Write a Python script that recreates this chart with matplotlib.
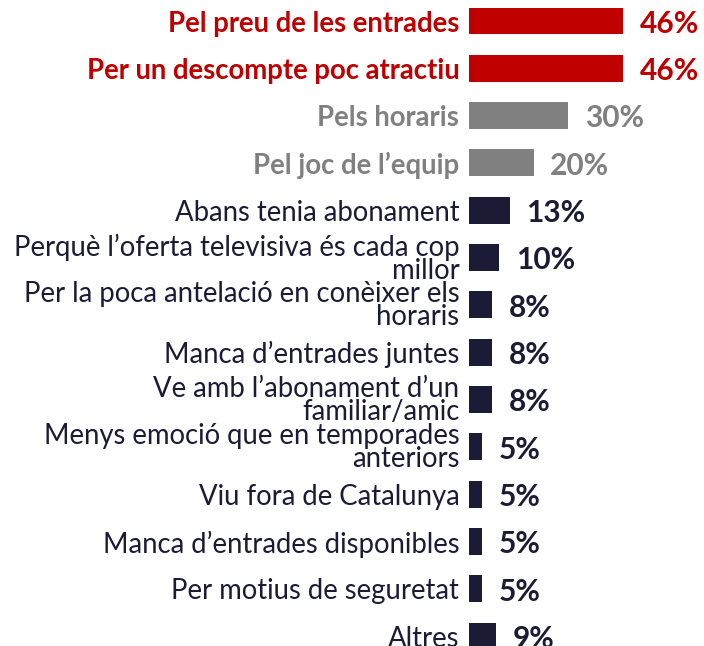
import numpy as np
import matplotlib
matplotlib.use('Agg')
import matplotlib.pyplot as plt

plt.rcParams['font.family'] = ['Lato', 'DejaVu Sans']

labels = ['Pel preu de les entrades', 'Per un descompte poc atractiu', 'Pels horaris',
          'Pel joc de l\u2019equip', 'Abans tenia abonament',
          'Perqu\u00e8 l\u2019oferta televisiva \u00e9s cada cop\nmillor',
          'Per la poca antelaci\u00f3 en con\u00e8ixer els\nhoraris',
          'Manca d\u2019entrades juntes', 'Ve amb l\u2019abonament d\u2019un\nfamiliar/amic',
          'Menys emoci\u00f3 que en temporades\nanteriors', 'Viu fora de Catalunya',
          'Manca d\u2019entrades disponibles', 'Per motius de seguretat', 'Altres']
values = [46, 46, 30, 20, 13, 10, 8, 8, 8, 5, 5, 5, 5, 9]
groups = ['top', 'top', 'mid', 'mid'] + ['rest'] * 10

RED = '#c00000'
GREY = '#808080'
NAVY = '#1c1b36'
col = {'top': RED, 'mid': GREY, 'rest': NAVY}

fig = plt.figure(figsize=(7.04, 6.46), dpi=100)
ax = fig.add_axes([469/704, 0, 1 - 469/704, 1])

y = np.arange(len(values))
colors = [col[g] for g in groups]
ax.barh(y, values, height=0.57, color=colors)

ax.set_xlim(1.2, 69.5)
ax.set_ylim(13.21, -0.444)

ax.set_yticks(y)
ax.set_yticklabels(labels, fontsize=19.8, linespacing=0.85)
ax.tick_params(axis='y', length=0, pad=7)
for t, g in zip(ax.get_yticklabels(), groups):
    t.set_color(col[g])
    if g != 'rest':
        t.set_fontweight('bold')

for i, v in enumerate(values):
    ax.annotate(f'{v}%', (v, i), xytext=(12, -2), textcoords='offset points',
                ha='left', va='center', fontsize=21.5, fontweight='bold', color=colors[i])

ax.set_xticks([])
for s in ax.spines.values():
    s.set_visible(False)

fig.savefig('out.png', dpi=100)
